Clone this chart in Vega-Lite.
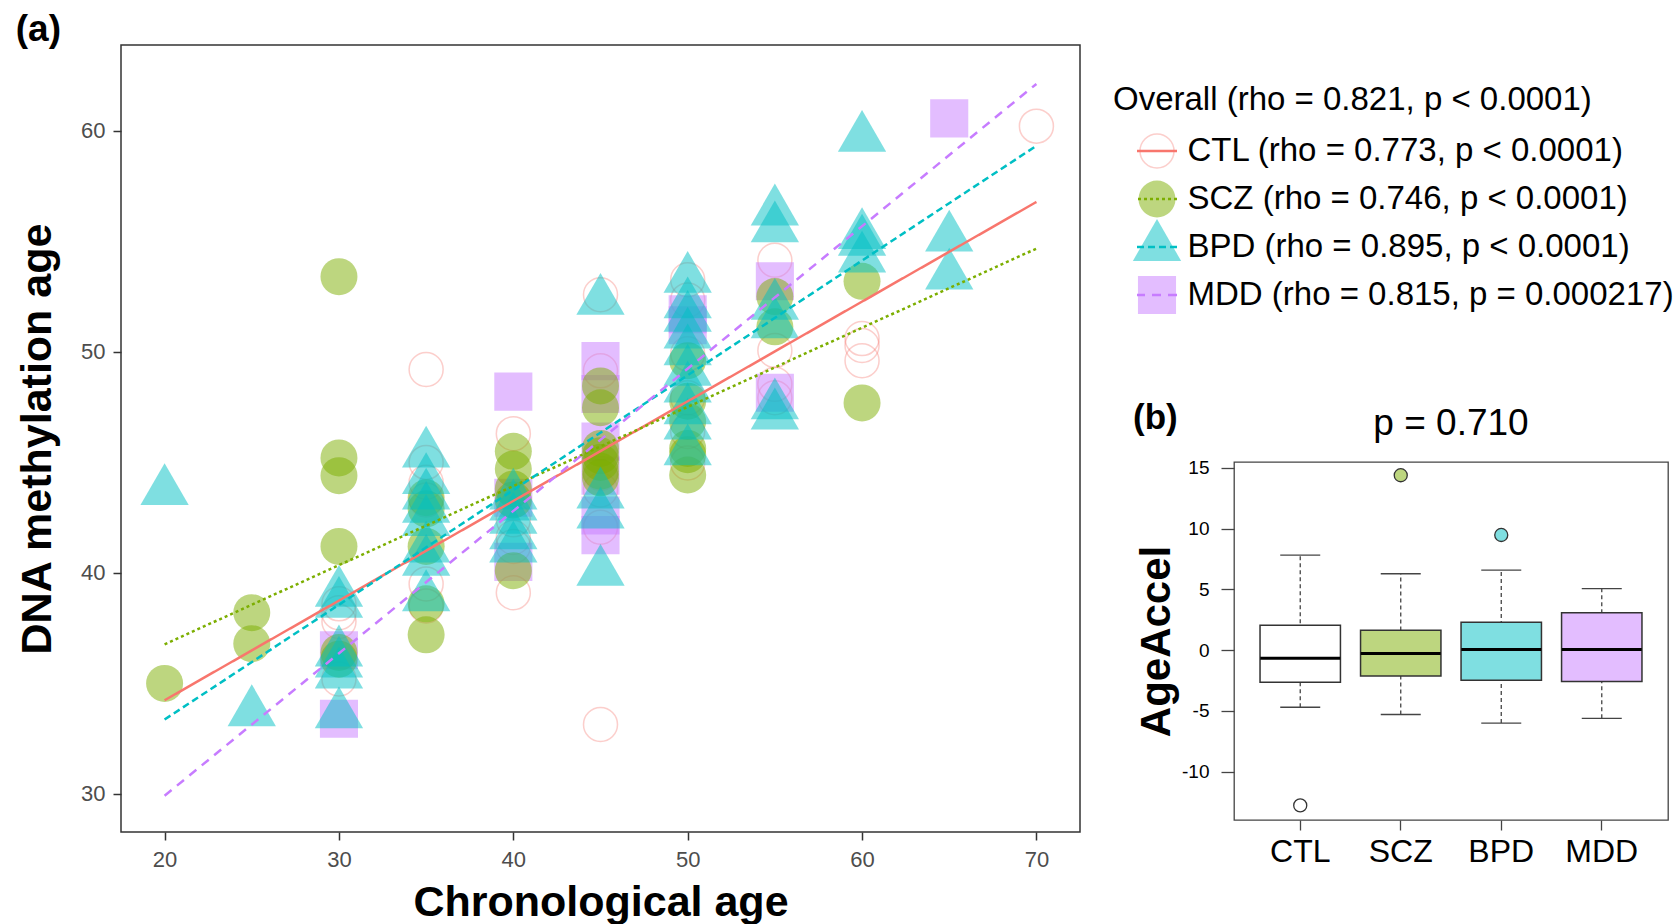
{
  "$schema": "https://vega.github.io/schema/vega-lite/v6.json",
  "padding": {"left": 15, "top": 11, "right": 0, "bottom": 0},
  "autosize": {"type": "pad"},
  "background": "white",
  "config": {"font": "Liberation Sans", "view": {"stroke": null}, "axis": {"grid": false}},
  "title": {"text": "(a)", "anchor": "start", "frame": "bounds", "fontSize": 37, "fontWeight": "bold", "color": "black", "offset": -5},
  "datasets": {
    "points": [
      {"group": "CTL", "age": 30, "dnam": 38.6}, {"group": "CTL", "age": 30, "dnam": 38.2}, {"group": "CTL", "age": 30, "dnam": 37.8}, {"group": "CTL", "age": 30, "dnam": 35.2},
      {"group": "CTL", "age": 35, "dnam": 49.2}, {"group": "CTL", "age": 35, "dnam": 45.0}, {"group": "CTL", "age": 35, "dnam": 44.1}, {"group": "CTL", "age": 35, "dnam": 43.3}, {"group": "CTL", "age": 35, "dnam": 39.5}, {"group": "CTL", "age": 35, "dnam": 38.5},
      {"group": "CTL", "age": 40, "dnam": 46.3}, {"group": "CTL", "age": 40, "dnam": 42.4}, {"group": "CTL", "age": 40, "dnam": 41.6}, {"group": "CTL", "age": 40, "dnam": 41.2}, {"group": "CTL", "age": 40, "dnam": 39.1},
      {"group": "CTL", "age": 45, "dnam": 52.58}, {"group": "CTL", "age": 45, "dnam": 49.14}, {"group": "CTL", "age": 45, "dnam": 44.5}, {"group": "CTL", "age": 45, "dnam": 43.75}, {"group": "CTL", "age": 45, "dnam": 42.07}, {"group": "CTL", "age": 45, "dnam": 33.14},
      {"group": "CTL", "age": 50, "dnam": 53.26}, {"group": "CTL", "age": 50, "dnam": 52.35}, {"group": "CTL", "age": 50, "dnam": 49.91}, {"group": "CTL", "age": 50, "dnam": 47.92}, {"group": "CTL", "age": 50, "dnam": 46.4}, {"group": "CTL", "age": 50, "dnam": 44.97},
      {"group": "CTL", "age": 55, "dnam": 54.14}, {"group": "CTL", "age": 55, "dnam": 50.06}, {"group": "CTL", "age": 55, "dnam": 48.53}, {"group": "CTL", "age": 55, "dnam": 47.92},
      {"group": "CTL", "age": 60, "dnam": 50.6}, {"group": "CTL", "age": 60, "dnam": 50.29}, {"group": "CTL", "age": 60, "dnam": 49.6},
      {"group": "CTL", "age": 70, "dnam": 60.21},
      {"group": "SCZ", "age": 20, "dnam": 35.0}, {"group": "SCZ", "age": 25, "dnam": 38.2}, {"group": "SCZ", "age": 25, "dnam": 36.8},
      {"group": "SCZ", "age": 30, "dnam": 53.4}, {"group": "SCZ", "age": 30, "dnam": 45.2}, {"group": "SCZ", "age": 30, "dnam": 44.4}, {"group": "SCZ", "age": 30, "dnam": 41.2}, {"group": "SCZ", "age": 30, "dnam": 36.4}, {"group": "SCZ", "age": 30, "dnam": 36.1},
      {"group": "SCZ", "age": 35, "dnam": 43.4}, {"group": "SCZ", "age": 35, "dnam": 42.9}, {"group": "SCZ", "age": 35, "dnam": 41.2}, {"group": "SCZ", "age": 35, "dnam": 38.6}, {"group": "SCZ", "age": 35, "dnam": 37.2},
      {"group": "SCZ", "age": 40, "dnam": 45.5}, {"group": "SCZ", "age": 40, "dnam": 44.7}, {"group": "SCZ", "age": 40, "dnam": 43.8}, {"group": "SCZ", "age": 40, "dnam": 43.3}, {"group": "SCZ", "age": 40, "dnam": 40.1},
      {"group": "SCZ", "age": 45, "dnam": 48.46}, {"group": "SCZ", "age": 45, "dnam": 47.47}, {"group": "SCZ", "age": 45, "dnam": 45.63}, {"group": "SCZ", "age": 45, "dnam": 45.3}, {"group": "SCZ", "age": 45, "dnam": 45.0}, {"group": "SCZ", "age": 45, "dnam": 44.6}, {"group": "SCZ", "age": 45, "dnam": 44.3},
      {"group": "SCZ", "age": 50, "dnam": 49.6}, {"group": "SCZ", "age": 50, "dnam": 47.77}, {"group": "SCZ", "age": 50, "dnam": 46.85}, {"group": "SCZ", "age": 50, "dnam": 45.63}, {"group": "SCZ", "age": 50, "dnam": 45.35}, {"group": "SCZ", "age": 50, "dnam": 44.43},
      {"group": "SCZ", "age": 55, "dnam": 52.5}, {"group": "SCZ", "age": 55, "dnam": 51.13},
      {"group": "SCZ", "age": 60, "dnam": 53.19}, {"group": "SCZ", "age": 60, "dnam": 47.69},
      {"group": "BPD", "age": 20, "dnam": 43.7}, {"group": "BPD", "age": 25, "dnam": 33.7},
      {"group": "BPD", "age": 30, "dnam": 39.1}, {"group": "BPD", "age": 30, "dnam": 38.6}, {"group": "BPD", "age": 30, "dnam": 36.4}, {"group": "BPD", "age": 30, "dnam": 35.9}, {"group": "BPD", "age": 30, "dnam": 35.4}, {"group": "BPD", "age": 30, "dnam": 33.6},
      {"group": "BPD", "age": 35, "dnam": 45.4}, {"group": "BPD", "age": 35, "dnam": 44.2}, {"group": "BPD", "age": 35, "dnam": 43.5}, {"group": "BPD", "age": 35, "dnam": 42.9}, {"group": "BPD", "age": 35, "dnam": 42.3}, {"group": "BPD", "age": 35, "dnam": 41.1}, {"group": "BPD", "age": 35, "dnam": 40.5}, {"group": "BPD", "age": 35, "dnam": 38.9},
      {"group": "BPD", "age": 40, "dnam": 43.5}, {"group": "BPD", "age": 40, "dnam": 43.0}, {"group": "BPD", "age": 40, "dnam": 42.4}, {"group": "BPD", "age": 40, "dnam": 41.7}, {"group": "BPD", "age": 40, "dnam": 41.1},
      {"group": "BPD", "age": 45, "dnam": 52.31}, {"group": "BPD", "age": 45, "dnam": 43.55}, {"group": "BPD", "age": 45, "dnam": 42.64}, {"group": "BPD", "age": 45, "dnam": 40.05},
      {"group": "BPD", "age": 50, "dnam": 53.3}, {"group": "BPD", "age": 50, "dnam": 52.15}, {"group": "BPD", "age": 50, "dnam": 51.54}, {"group": "BPD", "age": 50, "dnam": 50.78}, {"group": "BPD", "age": 50, "dnam": 50.02}, {"group": "BPD", "age": 50, "dnam": 49.1}, {"group": "BPD", "age": 50, "dnam": 48.34}, {"group": "BPD", "age": 50, "dnam": 47.35}, {"group": "BPD", "age": 50, "dnam": 46.66}, {"group": "BPD", "age": 50, "dnam": 45.5},
      {"group": "BPD", "age": 55, "dnam": 56.35}, {"group": "BPD", "age": 55, "dnam": 55.59}, {"group": "BPD", "age": 55, "dnam": 52.08}, {"group": "BPD", "age": 55, "dnam": 51.24}, {"group": "BPD", "age": 55, "dnam": 47.58}, {"group": "BPD", "age": 55, "dnam": 47.12},
      {"group": "BPD", "age": 60, "dnam": 59.68}, {"group": "BPD", "age": 60, "dnam": 55.28}, {"group": "BPD", "age": 60, "dnam": 54.98}, {"group": "BPD", "age": 60, "dnam": 54.22},
      {"group": "BPD", "age": 65, "dnam": 55.17}, {"group": "BPD", "age": 65, "dnam": 53.45},
      {"group": "MDD", "age": 30, "dnam": 36.5}, {"group": "MDD", "age": 30, "dnam": 33.4},
      {"group": "MDD", "age": 40, "dnam": 48.2}, {"group": "MDD", "age": 40, "dnam": 43.4}, {"group": "MDD", "age": 40, "dnam": 40.5},
      {"group": "MDD", "age": 45, "dnam": 49.58}, {"group": "MDD", "age": 45, "dnam": 48.09}, {"group": "MDD", "age": 45, "dnam": 45.94}, {"group": "MDD", "age": 45, "dnam": 44.4}, {"group": "MDD", "age": 45, "dnam": 42.6}, {"group": "MDD", "age": 45, "dnam": 41.71},
      {"group": "MDD", "age": 50, "dnam": 51.7}, {"group": "MDD", "age": 50, "dnam": 51.2},
      {"group": "MDD", "age": 55, "dnam": 53.19}, {"group": "MDD", "age": 55, "dnam": 48.15},
      {"group": "MDD", "age": 65, "dnam": 60.56}
    ],
    "fits": [
      {"group": "CTL", "age": 20, "dnam": 34.24}, {"group": "CTL", "age": 70, "dnam": 56.78},
      {"group": "SCZ", "age": 20, "dnam": 36.77}, {"group": "SCZ", "age": 70, "dnam": 54.67},
      {"group": "BPD", "age": 20, "dnam": 33.37}, {"group": "BPD", "age": 70, "dnam": 59.32},
      {"group": "MDD", "age": 20, "dnam": 29.92}, {"group": "MDD", "age": 70, "dnam": 62.12}
    ],
    "legend": [
      {"group": "CTL", "label": "CTL (rho = 0.773, p < 0.0001)"},
      {"group": "SCZ", "label": "SCZ (rho = 0.746, p < 0.0001)"},
      {"group": "BPD", "label": "BPD (rho = 0.895, p < 0.0001)"},
      {"group": "MDD", "label": "MDD (rho = 0.815, p = 0.000217)"}
    ],
    "boxes": [
      {"group": "CTL", "lower": -4.70, "q1": -2.65, "median": -0.68, "q3": 2.05, "upper": 7.82},
      {"group": "SCZ", "lower": -5.30, "q1": -2.13, "median": -0.27, "q3": 1.64, "upper": 6.29},
      {"group": "BPD", "lower": -6.01, "q1": -2.48, "median": 0.04, "q3": 2.30, "upper": 6.59},
      {"group": "MDD", "lower": -5.62, "q1": -2.59, "median": 0.05, "q3": 3.07, "upper": 5.06}
    ],
    "outliers": [
      {"group": "CTL", "value": -12.79},
      {"group": "SCZ", "value": 14.4},
      {"group": "BPD", "value": 9.48}
    ]
  },
  "spacing": 32,
  "hconcat": [
    {
      "width": 959,
      "height": 787,
      "view": {"stroke": "#333333", "strokeWidth": 1.5},
      "encoding": {
        "x": {"field": "age", "type": "quantitative",
          "scale": {"domain": [17.5, 72.5], "nice": false, "zero": false},
          "axis": {"values": [20, 30, 40, 50, 60, 70], "title": "Chronological age", "titleFontSize": 43, "titleFontWeight": "bold", "titleColor": "black", "titlePadding": 11, "labelFontSize": 22, "labelColor": "#4D4D4D", "labelPadding": 9, "tickSize": 8, "tickColor": "#333333", "tickWidth": 1.5, "domain": false, "grid": false, "labelFlush": false}},
        "y": {"field": "dnam", "type": "quantitative",
          "scale": {"domain": [28.28, 63.88], "nice": false, "zero": false},
          "axis": {"values": [30, 40, 50, 60], "title": "DNA methylation age", "titleFontSize": 43, "titleFontWeight": "bold", "titleColor": "black", "titlePadding": 21, "labelFontSize": 22, "labelColor": "#4D4D4D", "labelPadding": 8, "tickSize": 8, "tickColor": "#333333", "tickWidth": 1.5, "domain": false, "grid": false, "labelFlush": false}},
        "color": {"field": "group", "type": "nominal", "scale": {"domain": ["CTL", "SCZ", "BPD", "MDD"], "range": ["#F8766D", "#7CAE00", "#00BFC4", "#C77CFF"]}, "legend": null}
      },
      "layer": [
        {"data": {"name": "points"}, "transform": [{"filter": "datum.group === 'CTL'"}],
         "mark": {"type": "point", "shape": "circle", "filled": false, "size": 1156, "strokeWidth": 1.5, "strokeOpacity": 0.5}},
        {"data": {"name": "points"}, "transform": [{"filter": "datum.group === 'MDD'"}],
         "mark": {"type": "point", "shape": "square", "filled": true, "size": 1450, "opacity": 0.5}},
        {"data": {"name": "points"}, "transform": [{"filter": "datum.group === 'SCZ'"}],
         "mark": {"type": "point", "shape": "circle", "filled": true, "size": 1369, "opacity": 0.5}},
        {"data": {"name": "points"}, "transform": [{"filter": "datum.group === 'BPD'"}],
         "mark": {"type": "point", "shape": "M0,-1.1547L1,0.5774L-1,0.5774Z", "filled": true, "size": 2333, "opacity": 0.5}},
        {"data": {"name": "fits"},
         "mark": {"type": "line", "strokeWidth": 2.5},
         "encoding": {"strokeDash": {"field": "group", "type": "nominal", "scale": {"domain": ["CTL", "SCZ", "BPD", "MDD"], "range": [[1, 0], [3, 3], [7, 4], [9, 7]]}, "legend": null}}}
      ]
    },
    {
      "spacing": 36,
      "vconcat": [
        {"width": 1, "height": 3, "data": {"values": []}, "mark": "point"},
        {
          "width": 40,
          "height": 238,
          "data": {"name": "legend"},
          "title": {"text": "Overall (rho = 0.821, p < 0.0001)", "anchor": "start", "frame": "group", "dx": -24, "fontSize": 33, "fontWeight": "normal", "color": "black", "offset": 10},
          "encoding": {
            "y": {"field": "label", "type": "nominal", "sort": null,
              "scale": {"type": "band", "paddingInner": 0, "paddingOuter": 0.479, "align": 0},
              "axis": {"orient": "right", "title": null, "domain": false, "ticks": false, "labelFontSize": 33, "labelColor": "black", "labelPadding": 10, "labelLimit": 1000, "labelAlign": "left", "labelBaseline": "middle"}},
            "color": {"field": "group", "type": "nominal", "scale": {"domain": ["CTL", "SCZ", "BPD", "MDD"], "range": ["#F8766D", "#7CAE00", "#00BFC4", "#C77CFF"]}, "legend": null}
          },
          "layer": [
            {"transform": [{"filter": "datum.group === 'CTL'"}],
             "mark": {"type": "point", "shape": "circle", "filled": false, "size": 1156, "strokeWidth": 1.5, "strokeOpacity": 0.5}},
            {"transform": [{"filter": "datum.group === 'SCZ'"}],
             "mark": {"type": "point", "shape": "circle", "filled": true, "size": 1369, "opacity": 0.5}},
            {"transform": [{"filter": "datum.group === 'BPD'"}],
             "mark": {"type": "point", "shape": "M0,-1.1547L1,0.5774L-1,0.5774Z", "filled": true, "size": 2333, "opacity": 0.5}},
            {"transform": [{"filter": "datum.group === 'MDD'"}],
             "mark": {"type": "point", "shape": "square", "filled": true, "size": 1450, "opacity": 0.5}},
            {"mark": {"type": "rule", "strokeWidth": 2.5},
             "encoding": {"strokeDash": {"field": "group", "type": "nominal", "scale": {"domain": ["CTL", "SCZ", "BPD", "MDD"], "range": [[1, 0], [3, 3], [7, 4], [9, 7]]}, "legend": null}}}
          ]
        },
        {
          "spacing": -44,
          "hconcat": [
            {"width": 40, "height": 1, "data": {"values": []}, "mark": "point",
             "title": {"text": "(b)", "anchor": "start", "frame": "group", "dx": -4, "fontSize": 35, "fontWeight": "bold", "color": "black", "offset": 26}},
            {
              "width": 434,
              "height": 358,
              "view": {"stroke": "#444444", "strokeWidth": 1.3},
              "title": {"text": "p = 0.710", "anchor": "middle", "frame": "group", "fontSize": 37, "fontWeight": "normal", "color": "black", "offset": 16},
              "encoding": {
                "x": {"field": "group", "type": "nominal",
                  "scale": {"type": "band", "domain": ["CTL", "SCZ", "BPD", "MDD"], "paddingInner": 0.2, "paddingOuter": 0.259},
                  "axis": {"title": null, "labelAngle": 0, "labelFontSize": 32, "labelColor": "black", "tickSize": 10, "tickColor": "#444444", "tickWidth": 1.3, "labelPadding": 6, "domain": false}}
              },
              "layer": [
                {"data": {"name": "boxes"},
                 "mark": {"type": "rule", "strokeDash": [4, 3], "color": "#444444", "strokeWidth": 1.3},
                 "encoding": {
                   "y": {"field": "lower", "type": "quantitative", "title": "AgeAccel",
                     "scale": {"domain": [-13.99, 15.49], "nice": false, "zero": false},
                     "axis": {"values": [-10, -5, 0, 5, 10, 15], "labelExpr": "replace(datum.label, '\u2212', '-')", "titleFontSize": 42, "titleFontWeight": "bold", "titleColor": "black", "titlePadding": 3, "labelFontSize": 19, "labelColor": "black", "labelPadding": 12, "tickSize": 13, "tickColor": "#444444", "tickWidth": 1.3, "domain": false, "grid": false, "labelFlush": false}},
                   "y2": {"field": "upper"}}},
                {"data": {"name": "boxes"},
                 "mark": {"type": "tick", "orient": "horizontal", "size": 40, "thickness": 1.4, "color": "#444444", "opacity": 1},
                 "encoding": {"y": {"field": "lower", "type": "quantitative", "title": "AgeAccel"}}},
                {"data": {"name": "boxes"},
                 "mark": {"type": "tick", "orient": "horizontal", "size": 40, "thickness": 1.4, "color": "#444444", "opacity": 1},
                 "encoding": {"y": {"field": "upper", "type": "quantitative", "title": "AgeAccel"}}},
                {"data": {"name": "boxes"},
                 "mark": {"type": "bar", "stroke": "#333333", "strokeWidth": 1.5, "opacity": 1},
                 "encoding": {
                   "y": {"field": "q1", "type": "quantitative", "title": "AgeAccel"},
                   "y2": {"field": "q3"},
                   "fill": {"field": "group", "type": "nominal", "scale": {"domain": ["CTL", "SCZ", "BPD", "MDD"], "range": ["#FFFFFF", "#BDD67F", "#7FDFE1", "#E3BDFF"]}, "legend": null}}},
                {"data": {"name": "boxes"},
                 "mark": {"type": "tick", "orient": "horizontal", "size": 80, "thickness": 3, "color": "black", "opacity": 1},
                 "encoding": {"y": {"field": "median", "type": "quantitative", "title": "AgeAccel"}}},
                {"data": {"name": "outliers"},
                 "mark": {"type": "point", "shape": "circle", "filled": true, "size": 170, "stroke": "#333333", "strokeWidth": 1.3, "opacity": 1},
                 "encoding": {
                   "y": {"field": "value", "type": "quantitative", "title": "AgeAccel"},
                   "fill": {"field": "group", "type": "nominal", "scale": {"domain": ["CTL", "SCZ", "BPD", "MDD"], "range": ["#FFFFFF", "#BDD67F", "#7FDFE1", "#E3BDFF"]}, "legend": null}}}
              ]
            }
          ]
        }
      ]
    }
  ]
}
